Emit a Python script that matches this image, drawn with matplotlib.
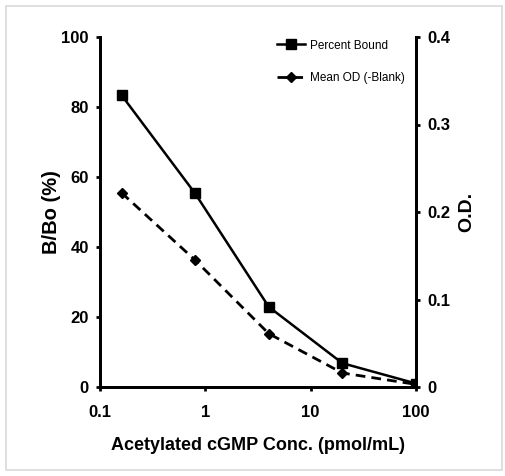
import matplotlib
matplotlib.use("Agg")
import matplotlib.pyplot as plt
from matplotlib.patches import Rectangle

# standard curve data
conc = [0.16, 0.8, 4, 20, 100]
percent_bound = [83.4, 55.3, 22.9, 6.8, 1.0]
mean_od = [0.222, 0.145, 0.061, 0.016, 0.003]

plt.rcParams["font.family"] = ["Liberation Sans", "DejaVu Sans"]

fig = plt.figure(figsize=(5.06, 4.76), dpi=100)
fig.patches.append(Rectangle((6 / 506, 6 / 476), 496 / 506, 464 / 476, transform=fig.transFigure,
                             fill=False, edgecolor="#d9d9d9", linewidth=1.2))

ax1 = fig.add_axes([100 / 506, 89 / 476, 316 / 506, 350 / 476])
ax2 = ax1.twinx()

l1, = ax1.plot(conc, percent_bound, "-s", color="black", lw=1.8, ms=7, label="Percent Bound")
l2, = ax2.plot(conc, mean_od, "--D", color="black", lw=2, ms=5, dashes=(3.5, 2.2), label="Mean OD (-Blank)")

ax1.set_xscale("log")
ax1.set_xlim(0.1, 100)
ax1.set_ylim(0, 100)
ax2.set_ylim(0, 0.4)
ax1.set_xticks([0.1, 1, 10, 100])
ax1.set_xticklabels(["0.1", "1", "10", "100"])
ax1.minorticks_off()
ax1.set_yticks([0, 20, 40, 60, 80, 100])
ax2.set_yticks([0, 0.1, 0.2, 0.3, 0.4])
ax2.set_yticklabels(["0", "0.1", "0.2", "0.3", "0.4"])

for ax in (ax1, ax2):
    ax.spines["top"].set_visible(False)
    for s in ("left", "right", "bottom"):
        ax.spines[s].set_linewidth(2)
    ax.tick_params(width=2, length=3, labelsize=12, pad=5)
    for lab in ax.get_xticklabels() + ax.get_yticklabels():
        lab.set_fontweight("bold")
ax1.tick_params(axis="x", pad=10)

ax1.set_xlabel("Acetylated cGMP Conc. (pmol/mL)", fontsize=13, fontweight="bold", labelpad=12)
ax1.set_ylabel("B/Bo (%)", fontsize=14.5, fontweight="bold", labelpad=0)
ax2.set_ylabel("O.D.", fontsize=14, fontweight="bold", labelpad=6)

leg = ax2.legend(handles=[l1, l2], loc="upper left", bbox_to_anchor=(0.545, 1.006), borderaxespad=0,
                 frameon=False, fontsize=8.5, handlelength=2.4, handletextpad=0.4, labelspacing=1.7)
leg.set_zorder(5)

fig.savefig("out.png", dpi=100)
